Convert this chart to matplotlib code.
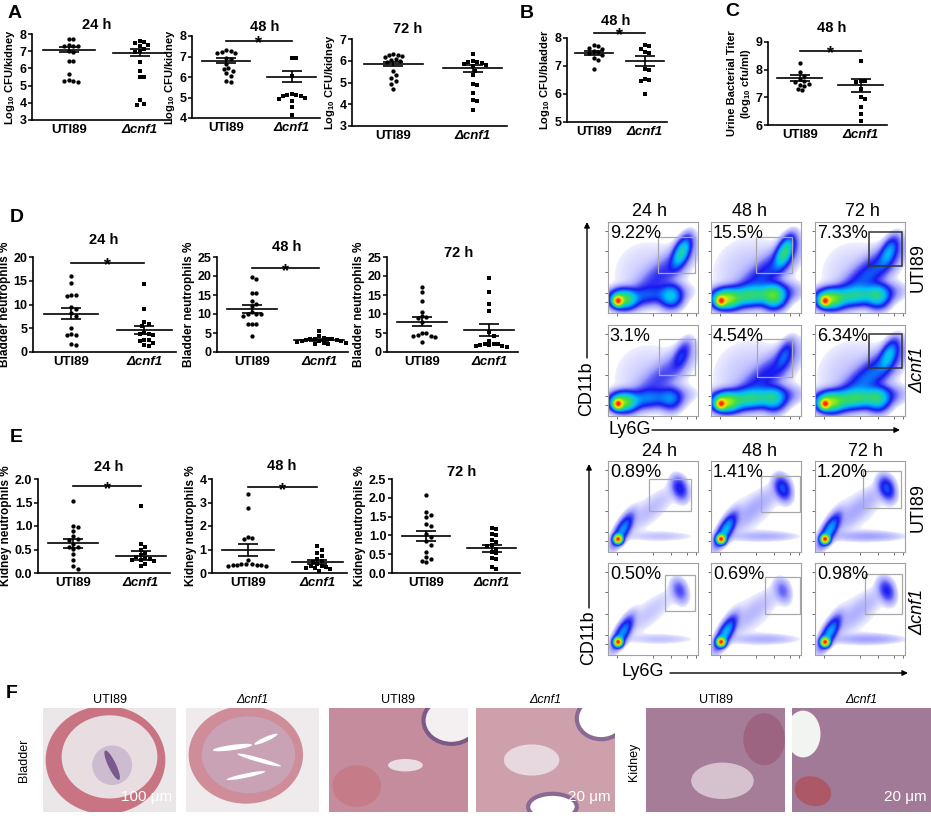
import numpy as np
import matplotlib
matplotlib.use('Agg')
import matplotlib.pyplot as plt
from matplotlib.colors import LinearSegmentedColormap, LogNorm
from matplotlib.patches import Rectangle, Ellipse

plt.rcParams['font.family'] = ['Liberation Sans', 'DejaVu Sans']
plt.rcParams['mathtext.default'] = 'regular'

# ---------------- data ----------------
groups = ['UTI89', 'Δcnf1']

# A: kidney CFU (log10)
a24_uti = [7.72, 7.70, 7.35, 7.32, 7.30, 7.28, 7.00, 6.95, 6.45, 6.42, 5.65, 5.30, 5.27, 5.25, 5.22]
a24_ko = [7.60, 7.55, 7.45, 7.35, 7.30, 7.15, 7.00, 6.95, 6.40, 5.85, 5.50, 5.48, 4.15, 3.95, 3.90]
a24_mean = [7.08, 6.92]
a24_sem = [0.15, 0.20]

a48_uti = [7.30, 7.25, 7.20, 7.15, 7.15, 6.95, 6.90, 6.65, 6.45, 6.40, 6.30, 6.20, 6.05, 5.80, 5.75]
a48_ko = [6.95, 6.93, 6.05, 5.15, 5.12, 5.10, 5.05, 5.05, 5.00, 4.95, 4.85, 4.55, 4.15]
a48_mean = [6.80, 6.02]
a48_sem = [0.12, 0.28]

a72_uti = [6.30, 6.28, 6.25, 6.20, 6.15, 6.10, 6.05, 6.00, 5.95, 5.55, 5.35, 5.20, 5.05, 4.95, 4.70]
a72_ko = [6.30, 5.98, 5.95, 5.92, 5.90, 5.85, 5.80, 5.75, 5.55, 5.35, 4.95, 4.90, 4.50, 4.20, 4.15, 3.75]
a72_mean = [5.85, 5.65]
a72_sem = [0.10, 0.15]

# B: bladder CFU 48 h
b_uti = [7.75, 7.72, 7.65, 7.60, 7.55, 7.50, 7.45, 7.40, 7.30, 7.20, 6.90]
b_ko = [7.75, 7.72, 7.62, 7.50, 7.45, 6.90, 6.85, 6.52, 6.50, 6.48, 6.00]
b_mean = [7.47, 7.17]
b_sem = [0.08, 0.17]

# C: urine titer 48 h
c_uti = [8.25, 7.90, 7.78, 7.65, 7.60, 7.55, 7.50, 7.45, 7.40, 7.30, 7.25]
c_ko = [8.30, 7.60, 7.58, 7.55, 7.30, 7.00, 6.95, 6.65, 6.40, 6.15]
c_mean = [7.70, 7.44]
c_sem = [0.12, 0.24]

# D: bladder neutrophils %
d24_uti = [16.1, 14.5, 11.9, 11.8, 11.9, 9.4, 9.0, 8.3, 7.5, 5.1, 3.8, 3.6, 3.5, 1.6, 1.4]
d24_ko = [14.3, 9.1, 6.3, 5.9, 5.4, 3.9, 3.7, 3.8, 3.6, 2.5, 2.4, 2.6, 2.0, 1.4, 1.2]
d24_mean = [8.1, 4.6]
d24_sem = [1.2, 0.9]

d48_uti = [19.7, 19.1, 15.5, 15.4, 13.4, 12.6, 12.0, 10.4, 10.1, 10.0, 10.1, 9.5, 7.4, 7.4, 7.4, 4.3]
d48_ko = [5.4, 4.2, 3.6, 3.5, 3.5, 3.4, 3.3, 3.2, 3.1, 3.0, 2.9, 2.8, 2.6, 2.5, 2.4, 2.2, 2.1]
d48_mean = [11.4, 3.2]
d48_sem = [1.1, 0.25]

d72_uti = [17.1, 15.8, 13.3, 10.6, 9.4, 9.3, 9.0, 7.9, 5.1, 4.9, 4.6, 4.2, 4.1, 4.0, 2.6]
d72_ko = [19.6, 15.9, 12.6, 10.9, 5.2, 4.3, 3.0, 2.2, 2.1, 2.0, 1.8, 1.7, 1.5, 1.4, 1.9]
d72_mean = [8.0, 5.9]
d72_sem = [1.2, 1.6]

# E: kidney neutrophils %
e24_uti = [1.54, 1.00, 0.97, 0.90, 0.78, 0.72, 0.70, 0.62, 0.56, 0.55, 0.52, 0.40, 0.28, 0.15, 0.08]
e24_ko = [1.43, 0.62, 0.55, 0.50, 0.42, 0.38, 0.35, 0.32, 0.30, 0.28, 0.27, 0.26, 0.20, 0.15]
e24_mean = [0.63, 0.37]
e24_sem = [0.10, 0.09]

e48_uti = [3.35, 2.75, 1.55, 1.50, 1.45, 0.55, 0.40, 0.38, 0.37, 0.36, 0.35, 0.34, 0.33, 0.30, 0.28]
e48_ko = [1.15, 1.00, 0.85, 0.72, 0.60, 0.50, 0.45, 0.38, 0.30, 0.28, 0.25, 0.22, 0.20, 0.15, 0.10]
e48_mean = [0.98, 0.47]
e48_sem = [0.25, 0.09]

e72_uti = [2.07, 1.62, 1.53, 1.50, 1.30, 1.25, 1.05, 0.95, 0.85, 0.75, 0.55, 0.42, 0.38, 0.32, 0.28]
e72_ko = [1.20, 1.18, 1.05, 1.02, 0.88, 0.82, 0.75, 0.72, 0.65, 0.55, 0.52, 0.40, 0.38, 0.15, 0.10]
e72_mean = [0.98, 0.66]
e72_sem = [0.14, 0.09]

# flow cytometry: gated percentages
times = ['24 h', '48 h', '72 h']
bladder_pct_uti = ['9.22%', '15.5%', '7.33%']
bladder_pct_ko = ['3.1%', '4.54%', '6.34%']
kidney_pct_uti = ['0.89%', '1.41%', '1.20%']
kidney_pct_ko = ['0.50%', '0.69%', '0.98%']

# populations seen in the dot plots (cx, cy, sx, sy, angle) and their relative weights
bladder_shapes = [(0.11, 0.13, 0.03, 0.03, 0), (0.17, 0.15, 0.08, 0.055, 0),
                  (0.45, 0.19, 0.20, 0.06, 5), (0.70, 0.18, 0.07, 0.07, 0),
                  (0.60, 0.42, 0.26, 0.08, 40), (0.82, 0.66, 0.10, 0.045, 65),
                  (0.45, 0.42, 0.32, 0.30, 0)]
bladder_w_uti = [[1, 0.25, 0.04, 0.10, 0.025, 0.15, 0.004],
                 [1, 0.35, 0.20, 0.22, 0.04, 0.20, 0.005],
                 [1, 0.30, 0.15, 0.12, 0.05, 0.08, 0.004]]
bladder_w_ko = [[1, 0.28, 0.06, 0.05, 0.02, 0.035, 0.004],
                [1, 0.35, 0.18, 0.10, 0.035, 0.045, 0.005],
                [1, 0.32, 0.20, 0.12, 0.06, 0.10, 0.005]]
kidney_shapes = [(0.11, 0.14, 0.025, 0.025, 0), (0.16, 0.24, 0.11, 0.04, 60),
                 (0.45, 0.45, 0.30, 0.07, 40), (0.60, 0.17, 0.25, 0.035, 0),
                 (0.80, 0.70, 0.05, 0.08, 20), (0.45, 0.45, 0.32, 0.30, 0)]
kidney_w_uti = [[1, 0.07, 0.004, 0.004, 0.035, 0.0015],
                [1, 0.09, 0.006, 0.006, 0.045, 0.002],
                [1, 0.08, 0.006, 0.008, 0.045, 0.002]]
kidney_w_ko = [[1, 0.07, 0.003, 0.004, 0.02, 0.0015],
               [1, 0.09, 0.004, 0.006, 0.015, 0.002],
               [1, 0.08, 0.005, 0.008, 0.03, 0.002]]

# ---------------- figure ----------------
W, H = 931, 816
fig = plt.figure(figsize=(W / 100, H / 100), dpi=100)


def px_axes(x0, y0, x1, y1):
    return fig.add_axes([x0 / W, 1 - y1 / H, (x1 - x0) / W, (y1 - y0) / H])


ov = fig.add_axes([0, 0, 1, 1])
ov.set_xlim(0, W)
ov.set_ylim(H, 0)
ov.axis('off')


def swarm(vals, ppu, spx, d=4.4):
    vals = np.asarray(vals, float)
    offs = np.zeros(len(vals))
    cands = [0.0]
    for k in range(1, 40):
        cands += [k * d * 0.5, -k * d * 0.5]
    placed = []
    for i in np.argsort(-vals):
        y = vals[i] * ppu
        for c in cands:
            if all((c - px) ** 2 + (y - py) ** 2 >= d * d for px, py in placed):
                break
        placed.append((c, y))
        offs[i] = c / spx
    return offs


def dot_panel(box, wt, ko, mean, sem, ylim, yticks, ylabel, title, tpos,
              sig=None, fmt='%g', lsize=8):
    x0, y0, x1, y1 = box
    ax = px_axes(x0, y0, x1, y1)
    xlo, xhi = -0.52, 1.43
    ax.set_xlim(xlo, xhi)
    ax.set_ylim(*ylim)
    ppu = (y1 - y0) / (ylim[1] - ylim[0])
    spx = (x1 - x0) / (xhi - xlo)
    for i, (vals, mk) in enumerate([(wt, 'o'), (ko, 's')]):
        off = swarm(vals, ppu, spx)
        ax.plot(i + off, vals, mk, color='black', ms=3.1, mew=0, ls='none',
                clip_on=False, zorder=3)
        ax.plot([i - 0.37, i + 0.37], [mean[i], mean[i]], color='black', lw=1.2, zorder=4)
        ax.errorbar(i, mean[i], yerr=sem[i], fmt='none', ecolor='black',
                    elinewidth=1.2, capsize=7.5, capthick=1.2, zorder=4)
    for s in ['top', 'right']:
        ax.spines[s].set_visible(False)
    for s in ['left', 'bottom']:
        ax.spines[s].set_linewidth(1.2)
    ax.set_yticks(yticks)
    ax.set_yticklabels([fmt % v for v in yticks], fontweight='bold', fontsize=9)
    ax.tick_params(axis='y', length=3, width=1.1, pad=1)
    ax.set_xticks([0, 1])
    ax.set_xticklabels(groups, fontweight='bold', fontsize=9.5)
    ax.get_xticklabels()[1].set_fontstyle('italic')
    ax.tick_params(axis='x', length=0, pad=3)
    ax.set_ylabel(ylabel, fontweight='bold', fontsize=lsize, labelpad=2)
    ax.patch.set_alpha(0)
    ov.text(tpos[0], tpos[1], title, fontweight='bold', fontsize=10.5,
            ha='center', va='center')
    if sig is not None:
        ax.plot([0, 1], [sig, sig], color='black', lw=1.2, clip_on=False)
        ax.annotate('*', (0.5, sig), xytext=(0, -5.5), textcoords='offset points',
                    ha='center', va='baseline', fontsize=13, fontweight='bold',
                    annotation_clip=False)
    return ax


kid_lab = 'Log$_{10}$ CFU/kidney'
dot_panel((32, 34, 170, 120), a24_uti, a24_ko, a24_mean, a24_sem, (3, 8), [3, 4, 5, 6, 7, 8],
          kid_lab, '24 h', (97, 25))
dot_panel((192, 36, 320, 118), a48_uti, a48_ko, a48_mean, a48_sem, (4, 8), [4, 5, 6, 7, 8],
          kid_lab, '48 h', (265, 27), sig=7.76)
dot_panel((352, 39, 507, 126), a72_uti, a72_ko, a72_mean, a72_sem, (3, 7), [3, 4, 5, 6, 7],
          kid_lab, '72 h', (408, 29))
dot_panel((567, 38, 667, 122), b_uti, b_ko, b_mean, b_sem, (5, 8), [5, 6, 7, 8],
          'Log$_{10}$ CFU/bladder', '48 h', (616, 21), sig=8.19)
dot_panel((768, 42, 887, 125), c_uti, c_ko, c_mean, c_sem, (6, 9), [6, 7, 8, 9],
          'Urine Bacterial Titer\n(log$_{10}$ cfu/ml)', '48 h', (832, 28), sig=8.69)

bl_lab = 'Bladder neutrophils %'
dot_panel((33, 257, 176, 352), d24_uti, d24_ko, d24_mean, d24_sem, (0, 20), [0, 5, 10, 15, 20],
          bl_lab, '24 h', (104, 240), sig=18.75, lsize=8.5)
dot_panel((217, 257, 348, 352), d48_uti, d48_ko, d48_mean, d48_sem, (0, 25), [0, 5, 10, 15, 20, 25],
          bl_lab, '48 h', (287, 247), sig=22.0, lsize=8.5)
dot_panel((387, 257, 518, 352), d72_uti, d72_ko, d72_mean, d72_sem, (0, 25), [0, 5, 10, 15, 20, 25],
          bl_lab, '72 h', (459, 253), lsize=8.5)

kn_lab = 'Kidney neutrophils %'
dot_panel((38, 479, 170, 573), e24_uti, e24_ko, e24_mean, e24_sem, (0, 2), [0, 0.5, 1, 1.5, 2],
          kn_lab, '24 h', (109, 467), sig=1.85, fmt='%.1f', lsize=8.5)
dot_panel((212, 479, 347, 573), e48_uti, e48_ko, e48_mean, e48_sem, (0, 4), [0, 1, 2, 3, 4],
          kn_lab, '48 h', (282, 466), sig=3.64, lsize=8.5)
dot_panel((392, 479, 520, 573), e72_uti, e72_ko, e72_mean, e72_sem, (0, 2.5), [0, 0.5, 1, 1.5, 2, 2.5],
          kn_lab, '72 h', (462, 472), fmt='%.1f', lsize=8.5)

for letter, (lx, ly) in zip('ABCDEF', [(8, 13), (520, 13), (725, 12), (10, 217), (10, 438), (6, 693)]):
    ov.text(lx, ly, letter, fontweight='bold', fontsize=14, ha='left', va='center')

# ---------------- flow cytometry ----------------
fcmap = LinearSegmentedColormap.from_list(
    'flow', [(0, '#f0f0ff'), (0.25, '#a0a0ff'), (0.45, '#1818f0'), (0.62, '#00c0ff'),
             (0.76, '#40e040'), (0.89, '#ffee00'), (1, '#ff1800')])
fcmap.set_under((1, 1, 1, 0))


def density(shapes, weights, n=160):
    g = np.linspace(0, 1, n)
    X, Y = np.meshgrid(g, g)
    Z = np.zeros_like(X)
    for (cx, cy, sx, sy, ang), w in zip(shapes, weights):
        t = np.deg2rad(ang)
        dx, dy = X - cx, Y - cy
        u = dx * np.cos(t) + dy * np.sin(t)
        v = -dx * np.sin(t) + dy * np.cos(t)
        Z += w * np.exp(-0.5 * ((u / sx) ** 2 + (v / sy) ** 2))
    return Z


def flow_panel(box, shapes, weights, gate, dark, pct):
    ax = px_axes(*box)
    Z = density(shapes, weights)
    ax.imshow(Z, origin='lower', extent=(0, 1, 0, 1), cmap=fcmap,
              norm=LogNorm(vmin=2e-3, vmax=Z.max()), interpolation='bilinear', aspect='auto')
    gx0, gy0, gx1, gy1 = gate
    ax.add_patch(Rectangle((gx0, gy0), gx1 - gx0, gy1 - gy0, fill=False,
                           ec='#333333' if dark else '#a8a8a8', lw=1.1 if dark else 0.9))
    ax.text(0.02, 0.97, pct, transform=ax.transAxes, ha='left', va='top', fontsize=13)
    ax.set_xlim(0, 1)
    ax.set_ylim(0, 1)
    ax.set_xticks([0.1, 0.5, 0.7, 0.88, 0.98])
    ax.set_yticks([0.12, 0.22, 0.45, 0.68, 0.9])
    ax.set_xticklabels([])
    ax.set_yticklabels([])
    ax.tick_params(length=2, width=0.6, color='#555555')
    for s in ax.spines.values():
        s.set_color('#a0a0a0')
        s.set_linewidth(0.8)


cols = [(608, 698), (711, 801), (815, 905)]
bl_rows = [(222, 313), (325, 416)]
kd_rows = [(461, 552), (563, 655)]
bl_gates = [[(0.555, 0.44, 0.965, 0.835), (0.5, 0.44, 0.9, 0.835), (0.6, 0.516, 0.967, 0.89)],
            [(0.57, 0.45, 0.97, 0.846), (0.51, 0.43, 0.9, 0.846), (0.6, 0.527, 0.967, 0.9)]]
kd_gates = [[(0.456, 0.45, 0.922, 0.8), (0.56, 0.44, 0.99, 0.835), (0.53, 0.48, 0.955, 0.89)],
            [(0.63, 0.48, 0.97, 0.87), (0.6, 0.45, 0.99, 0.85), (0.55, 0.45, 0.97, 0.88)]]

for r, (wts, pcts) in enumerate([(bladder_w_uti, bladder_pct_uti), (bladder_w_ko, bladder_pct_ko)]):
    for c in range(3):
        flow_panel((cols[c][0], bl_rows[r][0], cols[c][1], bl_rows[r][1]), bladder_shapes,
                   wts[c], bl_gates[r][c], c == 2, pcts[c])
for r, (wts, pcts) in enumerate([(kidney_w_uti, kidney_pct_uti), (kidney_w_ko, kidney_pct_ko)]):
    for c in range(3):
        flow_panel((cols[c][0], kd_rows[r][0], cols[c][1], kd_rows[r][1]), kidney_shapes,
                   wts[c], kd_gates[r][c], False, pcts[c])

for t, x in zip(times, [650, 750, 862]):
    ov.text(x, 212, t, fontsize=13, ha='center', va='center')
for t, x in zip(times, [660, 760, 865]):
    ov.text(x, 452, t, fontsize=13, ha='center', va='center')
for y_u, y_k in [(268, 370), (508, 612)]:
    ov.text(918, y_u, 'UTI89', fontsize=13, rotation=90, ha='center', va='center')
    ov.text(918, y_k, 'Δcnf1', fontsize=13, rotation=90, ha='center', va='center', fontstyle='italic')

arrow = dict(arrowstyle='-|>', color='black', lw=1.0, mutation_scale=8, shrinkA=0, shrinkB=0)
ov.annotate('', xy=(587, 222), xytext=(587, 358), arrowprops=arrow)
ov.annotate('', xy=(900, 430), xytext=(652, 430), arrowprops=arrow)
ov.text(587, 389, 'CD11b', fontsize=13, rotation=90, ha='center', va='center')
ov.text(630, 430, 'Ly6G', fontsize=13, ha='center', va='center')
ov.annotate('', xy=(589, 464), xytext=(589, 608), arrowprops=arrow)
ov.annotate('', xy=(908, 673), xytext=(670, 673), arrowprops=arrow)
ov.text(589, 638, 'CD11b', fontsize=13, rotation=90, ha='center', va='center')
ov.text(643, 672, 'Ly6G', fontsize=13, ha='center', va='center')

# ---------------- F: histology ----------------
hist_boxes = [(43, 708, 176, 812), (186, 708, 319, 812), (329, 708, 468, 812),
              (476, 708, 615, 812), (646, 708, 785, 812), (792, 708, 931, 812)]
hist_titles = ['UTI89', 'Δcnf1', 'UTI89', 'Δcnf1', 'UTI89', 'Δcnf1']
hist_face = ['#ebe6e8', '#efebed', '#c48c9c', '#cda0ac', '#a67d99', '#a07a96']
scale_text = {0: '100 μm', 3: '20 μm', 5: '20 μm'}

for k, b in enumerate(hist_boxes):
    ax = px_axes(*b)
    ax.set_xlim(0, 1)
    ax.set_ylim(0, 1)
    ax.set_facecolor(hist_face[k])
    ax.set_xticks([])
    ax.set_yticks([])
    for s in ax.spines.values():
        s.set_visible(False)
    if k == 0:
        ax.add_patch(Ellipse((0.47, 0.5), 0.9, 1.04, fc='#c97482', ec='none'))
        ax.add_patch(Ellipse((0.5, 0.53), 0.72, 0.8, fc='#e8dee1', ec='none'))
        ax.add_patch(Ellipse((0.52, 0.45), 0.3, 0.38, fc='#cdbccf', ec='none'))
        ax.add_patch(Ellipse((0.52, 0.45), 0.06, 0.3, angle=20, fc='#7a5a8c', ec='none'))
    elif k == 1:
        ax.add_patch(Ellipse((0.45, 0.55), 0.86, 0.94, fc='#cf8d99', ec='none'))
        ax.add_patch(Ellipse((0.47, 0.55), 0.7, 0.74, fc='#c9a2b6', ec='none'))
        for cx, cy, ww, hh, an in [(0.35, 0.62, 0.3, 0.05, 10), (0.55, 0.5, 0.35, 0.04, -20),
                                   (0.45, 0.35, 0.3, 0.04, 15), (0.6, 0.7, 0.2, 0.04, 30)]:
            ax.add_patch(Ellipse((cx, cy), ww, hh, angle=an, fc='white', ec='none'))
    elif k == 2:
        ax.add_patch(Ellipse((0.88, 0.88), 0.4, 0.45, fc='#f4f0f2', ec='#7d5a86', lw=3))
        ax.add_patch(Ellipse((0.2, 0.25), 0.35, 0.4, fc='#c9707c', ec='none', alpha=0.6))
        ax.add_patch(Ellipse((0.55, 0.45), 0.25, 0.12, fc='#e9dde3', ec='none'))
    elif k == 3:
        ax.add_patch(Ellipse((0.9, 0.9), 0.35, 0.4, fc='white', ec='#8a6a94', lw=3))
        ax.add_patch(Ellipse((0.55, 0.05), 0.35, 0.25, fc='white', ec='#8a6a94', lw=3))
        ax.add_patch(Ellipse((0.4, 0.5), 0.4, 0.3, fc='#e6d8de', ec='none'))
    elif k == 4:
        ax.add_patch(Ellipse((0.55, 0.3), 0.45, 0.35, fc='#d6c2cf', ec='none'))
        ax.add_patch(Ellipse((0.85, 0.7), 0.3, 0.5, fc='#9a5a78', ec='none', alpha=0.7))
    else:
        ax.add_patch(Ellipse((0.08, 0.75), 0.25, 0.45, fc='#f2f4f2', ec='none'))
        ax.add_patch(Ellipse((0.15, 0.2), 0.25, 0.3, angle=30, fc='#b0505c', ec='none', alpha=0.8))
    if k in scale_text:
        ax.text(0.97, 0.14, scale_text[k], color='white', fontsize=11, ha='right', va='center',
                transform=ax.transAxes)
    tx = (b[0] + b[2]) / 2
    ov.text(tx, 700, hist_titles[k], fontsize=9, ha='center', va='center',
            fontstyle='italic' if k % 2 else 'normal')

ov.text(24, 760, 'Bladder', fontsize=9, rotation=90, ha='center', va='center')
ov.text(634, 762, 'Kidney', fontsize=9, rotation=90, ha='center', va='center')

fig.savefig('out.png', dpi=100)
